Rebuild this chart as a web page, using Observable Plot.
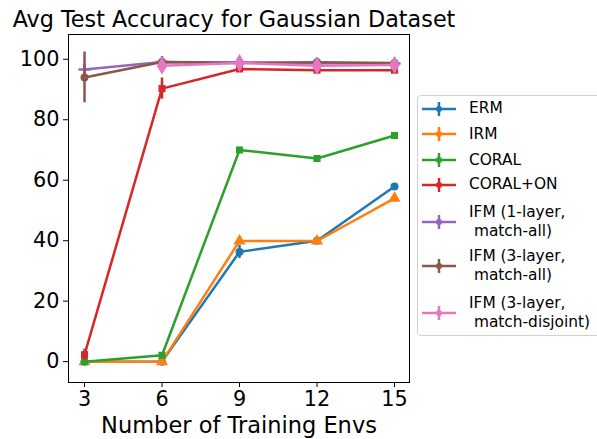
<!DOCTYPE html>
<html>
<head>
<meta charset="utf-8">
<script src="https://cdn.jsdelivr.net/npm/d3@7"></script>
<script src="https://cdn.jsdelivr.net/npm/@observablehq/plot@0.6"></script>
<style>
  html, body { margin: 0; padding: 0; background: #fff; }
  #wrap { position: relative; width: 597px; height: 439px; overflow: hidden; font-family: "DejaVu Sans", sans-serif; }
  #title { position: absolute; left: 0px; width: 468px; top: 6px; text-align: center; font-size: 22.3px; white-space: nowrap; color: #000; }
  #legend { position: absolute; left: 417px; top: 95px; width: 200px; height: 239px; border: 1px solid #d0d0d0; border-radius: 4px; background: #fff; }
  .item { position: absolute; left: 0; }
  .lab { position: absolute; left: 51px; font-size: 15.4px; white-space: pre; line-height: 18.7px; color: #000; }
</style>
</head>
<body>
<div id="wrap">
  <div id="chart"></div>
  <div id="title">Avg Test Accuracy for Gaussian Dataset</div>
  <div id="legend"></div>
</div>
<script>
const envs = [3, 6, 9, 12, 15];
const seriesNames = ["ERM", "IRM", "CORAL", "CORAL+ON", "IFM (1-layer,\n match-all)", "IFM (3-layer,\n match-all)", "IFM (3-layer,\n match-disjoint)"];
const colors = ["#1f77b4", "#ff7f0e", "#2ca02c", "#d62728", "#9467bd", "#8c564b", "#e377c2"];
const markers = ["circle", "triangle", "square", "square", "plus", "circle", "diamond"];

const erm      = [0, 0, 36.3, 40, 57.9];
const irm      = [0, 0, 39.9, 39.9, 54];
const coral    = [0, 2.1, 70, 67.2, 74.8];
const coralOn  = [2.3, 90.3, 96.8, 96.4, 96.4];
const ifm1     = [96.6, 99.1, 98.9, 98.7, 98.6];
const ifm3     = [94, 99.1, 98.8, 99, 98.8];
const ifm3d    = [null, 97.9, 98.8, 97.9, 98.1];

const ermErr     = [0.3, 0.3, 2.2, 0.5, 0.5];
const irmErr     = [0.3, 0.3, 0.4, 0.4, 0.4];
const coralErr   = [0.3, 0.5, 0.4, 0.4, 0.4];
const coralOnErr = [1.8, 3.5, 0.5, 0.5, 0.5];
const ifm1Err    = [0.5, 0.3, 0.3, 0.3, 0.3];
const ifm3Err    = [8.4, 0.3, 0.3, 0.3, 0.3];
const ifm3dErr   = [null, 0.5, 0.3, 0.3, 0.3];

const xTicks = [3, 6, 9, 12, 15];
const yTicks = [0, 20, 40, 60, 80, 100];
const xLabel = "Number of Training Envs";

const allVals = [erm, irm, coral, coralOn, ifm1, ifm3, ifm3d];
const allErr = [ermErr, irmErr, coralErr, coralOnErr, ifm1Err, ifm3Err, ifm3dErr];

const rows = [];
allVals.forEach((vals, s) => {
  vals.forEach((v, i) => {
    if (v != null) rows.push({s, name: seriesNames[s], x: envs[i], y: v, lo: v - allErr[s][i], hi: v + allErr[s][i]});
  });
});

const marks = [];
allVals.forEach((vals, s) => {
  const d = rows.filter(r => r.s === s);
  marks.push(Plot.line(d, {x: "x", y: "y", stroke: colors[s], strokeWidth: 2.5}));
  marks.push(Plot.ruleX(d, {x: "x", y1: "lo", y2: "hi", stroke: colors[s], strokeWidth: 2.5}));
  const sym = markers[s];
  const r = sym === "diamond" ? 5.5 : sym === "plus" ? 4 : sym === "triangle" ? 4.5 : 4;
  marks.push(Plot.dot(d, {x: "x", y: "y", symbol: () => sym, fill: colors[s], stroke: colors[s], strokeWidth: sym === "plus" ? 2.5 : 0, r}));
});

const chart = Plot.plot({
  width: 597,
  height: 439,
  marginLeft: 68,
  marginRight: 188,
  marginTop: 34,
  marginBottom: 57,
  style: {fontFamily: "DejaVu Sans, sans-serif", fontSize: "20.8px", background: "#fff", color: "#000"},
  x: {domain: [2.38, 15.58], ticks: xTicks, tickSize: 5, tickPadding: 4, label: null, tickFormat: d => String(d)},
  y: {domain: [-6.9, 108.2], ticks: yTicks, tickSize: 5, tickPadding: 4, label: null, tickFormat: d => String(d)},
  symbol: {type: "identity"},
  marks: [
    ...marks,
    Plot.frame({stroke: "#000", strokeWidth: 1}),
    Plot.text([xLabel], {frameAnchor: "bottom", dy: 50, text: d => d, fontSize: 22.5, fill: "#000"})
  ]
});
document.getElementById("chart").appendChild(chart);

// legend
const legend = document.getElementById("legend");
const itemCenters = [12.7, 38.3, 64, 88.7, 126, 170, 216.7];
seriesNames.forEach((name, s) => {
  const cy = itemCenters[s];
  const lines = name.split("\n");
  const item = document.createElement("div");
  item.className = "item";
  item.style.top = "0px";
  const svgNS = "http://www.w3.org/2000/svg";
  const svg = document.createElementNS(svgNS, "svg");
  svg.setAttribute("width", "50");
  svg.setAttribute("height", "20");
  svg.style.position = "absolute";
  svg.style.left = "0px";
  svg.style.top = (cy - 10) + "px";
  const l = document.createElementNS(svgNS, "line");
  l.setAttribute("x1", 4); l.setAttribute("x2", 38); l.setAttribute("y1", 10); l.setAttribute("y2", 10);
  l.setAttribute("stroke", colors[s]); l.setAttribute("stroke-width", 2.5);
  const v = document.createElementNS(svgNS, "line");
  v.setAttribute("x1", 21); v.setAttribute("x2", 21); v.setAttribute("y1", 3); v.setAttribute("y2", 17);
  v.setAttribute("stroke", colors[s]); v.setAttribute("stroke-width", 2.5);
  const c = document.createElementNS(svgNS, "circle");
  c.setAttribute("cx", 21); c.setAttribute("cy", 10); c.setAttribute("r", 3);
  c.setAttribute("fill", colors[s]);
  svg.appendChild(l); svg.appendChild(v); svg.appendChild(c);
  item.appendChild(svg);
  const lab = document.createElement("div");
  lab.className = "lab";
  lab.textContent = name;
  lab.style.top = (cy - lines.length * 18.7 / 2) + "px";
  item.appendChild(lab);
  legend.appendChild(item);
});
</script>
</body>
</html>
